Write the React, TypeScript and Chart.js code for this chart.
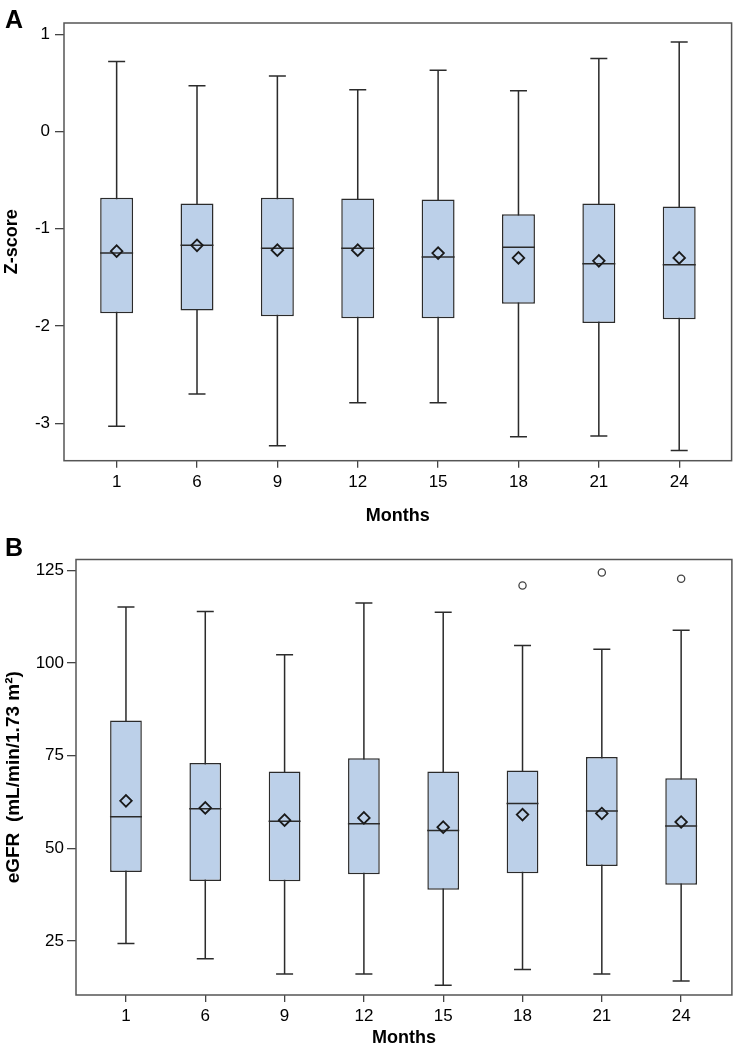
import React, { useEffect, useRef } from 'react';
import { Chart, registerables } from 'chart.js';

Chart.register(...registerables);

// ---------- data ----------
const months = ['1', '6', '9', '12', '15', '18', '21', '24'];

// Panel A: Z-score
const zLow = [-3.03, -2.70, -3.23, -2.79, -2.79, -3.14, -3.13, -3.28];
const zQ1 = [-1.87, -1.84, -1.90, -1.92, -1.92, -1.77, -1.97, -1.93];
const zMedian = [-1.25, -1.17, -1.20, -1.20, -1.29, -1.19, -1.36, -1.37];
const zMean = [-1.23, -1.17, -1.22, -1.22, -1.25, -1.30, -1.33, -1.30];
const zQ3 = [-0.68, -0.74, -0.68, -0.69, -0.70, -0.85, -0.74, -0.77];
const zHigh = [0.72, 0.47, 0.57, 0.43, 0.63, 0.42, 0.75, 0.92];
const zTicks = [-3, -2, -1, 0, 1];

// Panel B: eGFR
const eLow = [24.3, 20.2, 16.1, 16.1, 13.1, 17.3, 16.1, 14.2];
const eQ1 = [43.6, 41.2, 41.1, 43.0, 38.8, 43.3, 45.2, 40.2];
const eMedian = [58.5, 60.7, 57.3, 56.6, 54.8, 62.1, 60.1, 56.0];
const eMean = [62.8, 60.9, 57.6, 58.2, 55.7, 59.1, 59.4, 57.1];
const eQ3 = [84.5, 73.0, 70.7, 74.3, 70.7, 71.0, 74.6, 68.9];
const eHigh = [115.1, 113.9, 102.2, 116.2, 113.7, 104.7, 103.7, 108.8];
const eOutlierIdx = [5, 6, 7];
const eOutlierVal = [120.9, 124.4, 122.7];
const eTicks = [25, 50, 75, 100, 125];

const FONT = "'Liberation Sans', Arial, sans-serif";
Chart.defaults.font.family = FONT;

const BOX_FILL = '#bcd0e9';
const LINE = '#2b2b2b';

const framePlugin = {
  id: 'frame',
  afterDatasetsDraw(chart: any) {
    const { ctx, chartArea } = chart;
    const { left, top, right, bottom } = chartArea;
    ctx.save();
    ctx.strokeStyle = '#555';
    ctx.lineWidth = 1.5;
    ctx.strokeRect(left, top, right - left, bottom - top);
    ctx.restore();
  },
};

type Panel = {
  low: number[]; q1: number[]; median: number[]; mean: number[]; q3: number[]; high: number[];
  outIdx: number[]; outVal: number[];
  yTicks: number[]; yMin: number; yMax: number; yTitle: string; yTitleSize: number;
  xMin: number; xMax: number;
  height: number;
  padTop: number; padRight: number; yAxisW: number; xAxisH: number;
  yTitlePad: number; xTitlePad: number; yTickPad: number; xTickPad: number;
  boxPct: number; boxHalf: number;
};

function buildConfig(p: Panel): any {
  const idx = months.map((_, i) => i);
  const tickFont = { size: 17, family: FONT };
  const titleFont = { size: 18, weight: 'bold' as const, family: FONT };
  return {
    type: 'bar',
    data: {
      datasets: [
        {
          type: 'bar', label: 'whisker',
          data: idx.map((i) => ({ x: i, y: [p.low[i], p.high[i]] })),
          backgroundColor: LINE, borderWidth: 0, grouped: false,
          barPercentage: 0.019, categoryPercentage: 1, order: 5,
        },
        {
          type: 'bar', label: 'box',
          data: idx.map((i) => ({ x: i, y: [p.q1[i], p.q3[i]] })),
          backgroundColor: BOX_FILL, borderColor: LINE, borderWidth: 1.5,
          borderSkipped: false, grouped: false,
          barPercentage: p.boxPct, categoryPercentage: 1, order: 4,
        },
        {
          type: 'scatter', label: 'median',
          data: idx.map((i) => ({ x: i, y: p.median[i] })),
          pointStyle: 'line', pointRadius: p.boxHalf,
          pointBorderColor: LINE, pointBorderWidth: 1.5, order: 3,
        },
        {
          type: 'scatter', label: 'capLow',
          data: idx.map((i) => ({ x: i, y: p.low[i] })),
          pointStyle: 'line', pointRadius: 8.5,
          pointBorderColor: LINE, pointBorderWidth: 1.5, order: 3,
        },
        {
          type: 'scatter', label: 'capHigh',
          data: idx.map((i) => ({ x: i, y: p.high[i] })),
          pointStyle: 'line', pointRadius: 8.5,
          pointBorderColor: LINE, pointBorderWidth: 1.5, order: 3,
        },
        {
          type: 'scatter', label: 'mean',
          data: idx.map((i) => ({ x: i, y: p.mean[i] })),
          pointStyle: 'rectRot', pointRadius: 5.8,
          pointBackgroundColor: 'rgba(0,0,0,0)',
          pointBorderColor: '#1a1a1a', pointBorderWidth: 1.8, order: 1,
        },
        {
          type: 'scatter', label: 'outlier',
          data: p.outIdx.map((m, k) => ({ x: m, y: p.outVal[k] })),
          pointStyle: 'circle', pointRadius: 3.6,
          pointBackgroundColor: 'rgba(0,0,0,0)',
          pointBorderColor: '#444', pointBorderWidth: 1.3, order: 1,
        },
      ],
    },
    options: {
      responsive: false,
      animation: false,
      events: [],
      layout: { autoPadding: false, padding: { top: p.padTop, right: p.padRight, left: 0, bottom: 0 } },
      plugins: { legend: { display: false }, tooltip: { enabled: false } },
      scales: {
        x: {
          type: 'linear',
          offset: false,
          min: p.xMin,
          max: p.xMax,
          afterBuildTicks: (s: any) => { s.ticks = idx.map((v) => ({ value: v })); },
          afterFit: (s: any) => { s.height = p.xAxisH; s.paddingLeft = 0; s.paddingRight = 0; },
          ticks: {
            autoSkip: false, maxRotation: 0, minRotation: 0, padding: p.xTickPad,
            color: '#000', font: tickFont,
            callback: (v: any) => months[Math.round(Number(v))],
          },
          grid: { offset: false, drawOnChartArea: false, drawTicks: true, tickLength: 7, color: '#444', lineWidth: 1.3 },
          border: { display: false },
          title: {
            display: true, text: 'Months', color: '#000', font: titleFont,
            padding: { top: 0, bottom: p.xTitlePad },
          },
        },
        y: {
          type: 'linear',
          min: p.yMin,
          max: p.yMax,
          afterBuildTicks: (s: any) => { s.ticks = p.yTicks.map((v) => ({ value: v })); },
          afterFit: (s: any) => { s.width = p.yAxisW; s.paddingTop = 0; s.paddingBottom = 0; },
          ticks: {
            padding: p.yTickPad, color: '#000', font: tickFont,
            callback: (v: any) => String(v),
          },
          grid: { drawOnChartArea: false, drawTicks: true, tickLength: 9, color: '#444', lineWidth: 1.3 },
          border: { display: false },
          title: {
            display: true, text: p.yTitle, color: '#000',
            font: { ...titleFont, size: p.yTitleSize },
            padding: { top: p.yTitlePad, bottom: 0 },
          },
        },
      },
    },
    plugins: [framePlugin],
  };
}

const panelA: Panel = {
  low: zLow, q1: zQ1, median: zMedian, mean: zMean, q3: zQ3, high: zHigh,
  outIdx: [], outVal: [],
  yTicks: zTicks, yMin: -3.385, yMax: 1.116, yTitle: 'Z-score', yTitleSize: 18,
  xMin: -0.655, xMax: 7.652,
  height: 530,
  padTop: 23, padRight: 3.4, yAxisW: 64, xAxisH: 69.3,
  yTitlePad: 1, xTitlePad: 2.7, yTickPad: 5, xTickPad: 4,
  boxPct: 0.41, boxHalf: 16.5,
};

const panelB: Panel = {
  low: eLow, q1: eQ1, median: eMedian, mean: eMean, q3: eQ3, high: eHigh,
  outIdx: eOutlierIdx, outVal: eOutlierVal,
  yTicks: eTicks, yMin: 10.44, yMax: 127.9, yTitle: 'eGFR  (mL/min/1.73 m²)', yTitleSize: 19,
  xMin: -0.63, xMax: 7.64,
  height: 520,
  padTop: 29.5, padRight: 3.1, yAxisW: 76, xAxisH: 55,
  yTitlePad: 2, xTitlePad: 1.2, yTickPad: 3, xTickPad: 4,
  boxPct: 0.40, boxHalf: 16,
};

function BoxChart({ panel, top }: { panel: Panel; top: number }) {
  const ref = useRef<HTMLCanvasElement | null>(null);
  useEffect(() => {
    if (!ref.current) return;
    const chart = new Chart(ref.current, buildConfig(panel));
    return () => chart.destroy();
  }, [panel]);
  return (
    <div style={{ position: 'absolute', left: 0, top, width: 735, height: panel.height }}>
      <canvas ref={ref} width={735} height={panel.height} style={{ display: 'block' }} />
    </div>
  );
}

const letterStyle: React.CSSProperties = {
  position: 'absolute', left: 5, fontFamily: FONT, fontWeight: 'bold',
  fontSize: 25, lineHeight: 1, color: '#000',
};

export default function App() {
  return (
    <div style={{ position: 'absolute', left: 0, top: 0, width: 735, height: 1050, background: '#fff', overflow: 'hidden' }}>
      <BoxChart panel={panelA} top={0} />
      <BoxChart panel={panelB} top={530} />
      <div style={{ ...letterStyle, top: 6.7 }}>A</div>
      <div style={{ ...letterStyle, top: 534.7 }}>B</div>
    </div>
  );
}
